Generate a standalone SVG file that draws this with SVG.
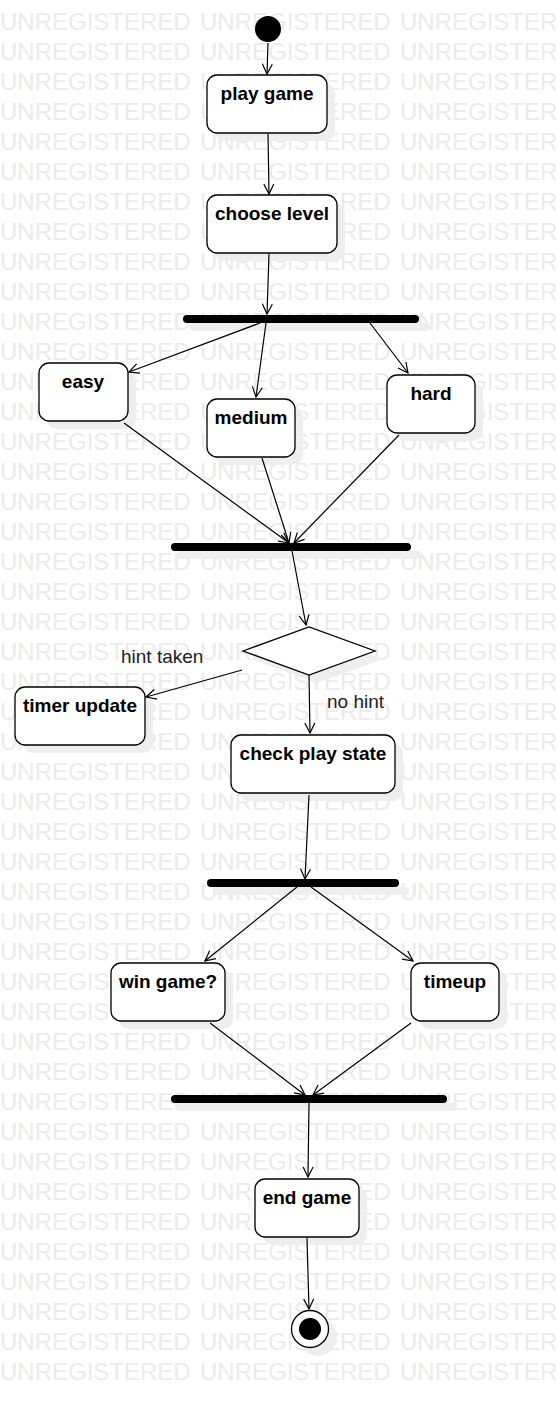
<svg xmlns="http://www.w3.org/2000/svg" width="559" height="1408" viewBox="0 0 559 1408">
<style>
.wm{font-family:"Liberation Sans",Arial,sans-serif;font-size:24px;fill:#ebebeb}
.box{fill:#fff;stroke:#000;stroke-width:1.3}
.sh{fill:#eeeeee}
.lbl{font-family:"Liberation Sans",Arial,sans-serif;font-size:19px;font-weight:bold;fill:#000;text-anchor:middle}
.el{font-family:"Liberation Sans",Arial,sans-serif;font-size:19px;fill:#222}
.bar{stroke:#000;stroke-width:8;stroke-linecap:round}
.barsh{stroke:#eeeeee;stroke-width:8;stroke-linecap:round}
.c{stroke:#000;stroke-width:1.2;fill:none;marker-end:url(#arr)}
</style>
<defs>
<marker id="arr" viewBox="0 0 12 12" refX="11" refY="6" markerWidth="12" markerHeight="12" markerUnits="userSpaceOnUse" orient="auto">
<path d="M1,1 L11,6 L1,11" fill="none" stroke="#000" stroke-width="1.2"/>
</marker>
<g id="wmrow"><text class="wm" x="0" y="0">UNREGISTERED</text><text class="wm" x="200" y="0">UNREGISTERED</text><text class="wm" x="400" y="0">UNREGISTERED</text></g>
</defs>
<rect width="559" height="1408" fill="#fff"/>
<g id="watermark">
<use href="#wmrow" y="30"/><use href="#wmrow" y="60"/><use href="#wmrow" y="90"/><use href="#wmrow" y="120"/><use href="#wmrow" y="150"/><use href="#wmrow" y="180"/><use href="#wmrow" y="210"/><use href="#wmrow" y="240"/><use href="#wmrow" y="270"/><use href="#wmrow" y="300"/>
<use href="#wmrow" y="330"/><use href="#wmrow" y="360"/><use href="#wmrow" y="390"/><use href="#wmrow" y="420"/><use href="#wmrow" y="450"/><use href="#wmrow" y="480"/><use href="#wmrow" y="510"/><use href="#wmrow" y="540"/><use href="#wmrow" y="570"/><use href="#wmrow" y="600"/>
<use href="#wmrow" y="630"/><use href="#wmrow" y="660"/><use href="#wmrow" y="690"/><use href="#wmrow" y="720"/><use href="#wmrow" y="750"/><use href="#wmrow" y="780"/><use href="#wmrow" y="810"/><use href="#wmrow" y="840"/><use href="#wmrow" y="870"/><use href="#wmrow" y="900"/>
<use href="#wmrow" y="930"/><use href="#wmrow" y="960"/><use href="#wmrow" y="990"/><use href="#wmrow" y="1020"/><use href="#wmrow" y="1050"/><use href="#wmrow" y="1080"/><use href="#wmrow" y="1110"/><use href="#wmrow" y="1140"/><use href="#wmrow" y="1170"/><use href="#wmrow" y="1200"/>
<use href="#wmrow" y="1230"/><use href="#wmrow" y="1260"/><use href="#wmrow" y="1290"/><use href="#wmrow" y="1320"/><use href="#wmrow" y="1350"/><use href="#wmrow" y="1380"/>
</g>
<g id="shadows">
<rect class="sh" x="215" y="83" width="120" height="58" rx="10"/>
<rect class="sh" x="215" y="203" width="130" height="58" rx="10"/>
<line class="barsh" x1="193" y1="327" x2="425" y2="327"/>
<rect class="sh" x="47" y="371" width="89" height="58" rx="10"/>
<rect class="sh" x="215" y="407" width="88" height="58" rx="10"/>
<rect class="sh" x="395" y="383" width="88" height="58" rx="10"/>
<line class="barsh" x1="181" y1="555" x2="417" y2="555"/>
<polygon class="sh" points="251,659 317,635 383,659 317,683"/>
<rect class="sh" x="23" y="695" width="130" height="58" rx="10"/>
<rect class="sh" x="239" y="743" width="164" height="58" rx="10"/>
<line class="barsh" x1="217" y1="891" x2="405" y2="891"/>
<rect class="sh" x="119" y="971" width="114" height="58" rx="10"/>
<rect class="sh" x="419" y="971" width="88" height="58" rx="10"/>
<line class="barsh" x1="181" y1="1107" x2="453" y2="1107"/>
<rect class="sh" x="263" y="1187" width="104" height="58" rx="10"/>
<circle class="sh" cx="318" cy="1337" r="19"/>
</g>
<g id="connectors">
<line class="c" x1="268" y1="43" x2="267" y2="74"/>
<line class="c" x1="268" y1="134" x2="269" y2="194"/>
<line class="c" x1="269" y1="254" x2="267" y2="314"/>
<line class="c" x1="260" y1="323" x2="129" y2="372"/>
<line class="c" x1="266" y1="323" x2="256" y2="397"/>
<line class="c" x1="370" y1="323" x2="408" y2="373"/>
<line class="c" x1="124" y1="423" x2="289" y2="543"/>
<line class="c" x1="262" y1="458" x2="289" y2="543"/>
<line class="c" x1="399" y1="435" x2="294" y2="543"/>
<line class="c" x1="292" y1="551" x2="306" y2="625"/>
<line class="c" x1="242" y1="670" x2="146" y2="697"/>
<line class="c" x1="309" y1="675" x2="310" y2="733"/>
<line class="c" x1="309" y1="795" x2="305" y2="879"/>
<line class="c" x1="297" y1="887" x2="205" y2="961"/>
<line class="c" x1="311" y1="887" x2="413" y2="961"/>
<line class="c" x1="210" y1="1023" x2="305" y2="1095"/>
<line class="c" x1="411" y1="1023" x2="313" y2="1095"/>
<line class="c" x1="309" y1="1103" x2="308" y2="1177"/>
<line class="c" x1="307" y1="1238" x2="309" y2="1309"/>
<text class="el" x="121" y="663">hint taken</text>
<text class="el" x="327" y="708">no hint</text>
</g>
<g id="start"><circle cx="268" cy="29" r="13" fill="#000"/></g>
<g id="play_game"><rect class="box" x="207" y="75" width="120" height="58" rx="10"/><text class="lbl" x="267" y="100">play game</text></g>
<g id="choose_level"><rect class="box" x="207" y="195" width="130" height="58" rx="10"/><text class="lbl" x="272" y="220">choose level</text></g>
<g id="fork1"><line class="bar" x1="187" y1="319" x2="415" y2="319"/></g>
<g id="easy"><rect class="box" x="39" y="363" width="89" height="58" rx="10"/><text class="lbl" x="83" y="388">easy</text></g>
<g id="medium"><rect class="box" x="207" y="399" width="88" height="58" rx="10"/><text class="lbl" x="251" y="424">medium</text></g>
<g id="hard"><rect class="box" x="387" y="375" width="88" height="58" rx="10"/><text class="lbl" x="431" y="400">hard</text></g>
<g id="join1"><line class="bar" x1="175" y1="547" x2="407" y2="547"/></g>
<g id="decision"><polygon points="243,651 309,627 375,651 309,675" fill="#fff" stroke="#000" stroke-width="1.3"/></g>
<g id="timer_update"><rect class="box" x="15" y="687" width="130" height="58" rx="10"/><text class="lbl" x="80" y="712">timer update</text></g>
<g id="check_play_state"><rect class="box" x="231" y="735" width="164" height="58" rx="10"/><text class="lbl" x="313" y="760">check play state</text></g>
<g id="fork2"><line class="bar" x1="211" y1="883" x2="395" y2="883"/></g>
<g id="win_game"><rect class="box" x="111" y="963" width="114" height="58" rx="10"/><text class="lbl" x="168" y="988">win game?</text></g>
<g id="timeup"><rect class="box" x="411" y="963" width="88" height="58" rx="10"/><text class="lbl" x="455" y="988">timeup</text></g>
<g id="join2"><line class="bar" x1="175" y1="1099" x2="443" y2="1099"/></g>
<g id="end_game"><rect class="box" x="255" y="1179" width="104" height="58" rx="10"/><text class="lbl" x="307" y="1204">end game</text></g>
<g id="final"><circle cx="310" cy="1329" r="18.5" fill="#fff" stroke="#000" stroke-width="1.3"/><circle cx="310" cy="1329" r="11" fill="#000"/></g>
</svg>
